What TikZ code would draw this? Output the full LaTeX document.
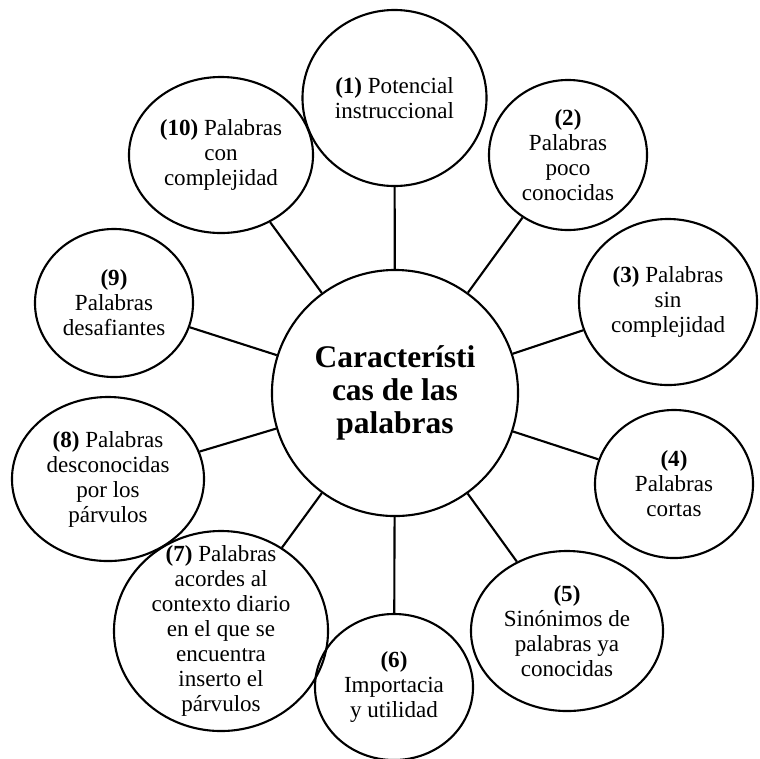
\documentclass[tikz,border=0pt]{standalone}
\usepackage{fontspec}
\setmainfont{Liberation Serif}
\usetikzlibrary{shapes.geometric}

\begin{document}
\begin{tikzpicture}[x=0.025cm, y=-0.025cm,
  bubble/.style={draw, ellipse, line width=1.5pt, inner sep=0pt},
  word/.style={align=center, font=\fontsize{16.4}{17.8}\selectfont},
  core/.style={draw, circle, line width=1.5pt, minimum size=6.15cm, align=center, font=\fontsize{22.4}{23.5}\selectfont\bfseries},
  link/.style={line width=1.5pt}]
\useasboundingbox (0,0) rectangle (760,758);
\node[core] (c) at (395,393) {Característi\\cas de las\\palabras};
\node[bubble, minimum width=4.6cm, minimum height=4.4cm, label={[word]center:{\textbf{(1)} Potencial\\instruccional}}] (n1) at (394.5,98) {};
\node[bubble, minimum width=3.95cm, minimum height=3.75cm, label={[word]center:{\textbf{(2)}\\Palabras\\poco\\conocidas}}] (n2) at (568,155) {};
\node[bubble, minimum width=4.45cm, minimum height=4.15cm, label={[word]center:{\textbf{(3)} Palabras\\sin\\complejidad}}] (n3) at (668,302) {};
\node[bubble, minimum width=3.95cm, minimum height=3.7cm, label={[word]center:{\textbf{(4)}\\Palabras\\cortas}}] (n4) at (674,484) {};
\node[bubble, minimum width=4.8cm, minimum height=4.0cm, label={[word]center:{\textbf{(5)}\\Sinónimos de\\palabras ya\\conocidas}}] (n5) at (567,631) {};
\node[bubble, minimum width=3.95cm, minimum height=3.65cm, label={[word]center:{\textbf{(6)}\\Importacia\\y utilidad}}] (n6) at (394,687) {};
\node[bubble, minimum width=5.35cm, minimum height=5.0cm, label={[word]center:{\textbf{(7)} Palabras\\acordes al\\contexto diario\\en el que se\\encuentra\\inserto el\\párvulos}}] (n7) at (221,631) {};
\node[bubble, minimum width=4.8cm, minimum height=4.1cm, label={[word]center:{\textbf{(8)} Palabras\\desconocidas\\por los\\párvulos}}] (n8) at (108,479) {};
\node[bubble, minimum width=3.95cm, minimum height=3.7cm, label={[word]center:{\textbf{(9)}\\Palabras\\desafiantes}}] (n9) at (114,303) {};
\node[bubble, minimum width=4.6cm, minimum height=3.9cm, label={[word]center:{\textbf{(10)} Palabras\\con\\complejidad}}] (n10) at (221,155) {};
\draw[link] (c) -- (n1);
\draw[link] (c) -- (n2);
\draw[link] (c) -- (n3);
\draw[link] (c) -- (n4);
\draw[link] (c) -- (n5);
\draw[link] (c) -- (n6);
\draw[link] (c) -- (n7);
\draw[link] (c) -- (n8);
\draw[link] (c) -- (n9);
\draw[link] (c) -- (n10);
\end{tikzpicture}
\end{document}
